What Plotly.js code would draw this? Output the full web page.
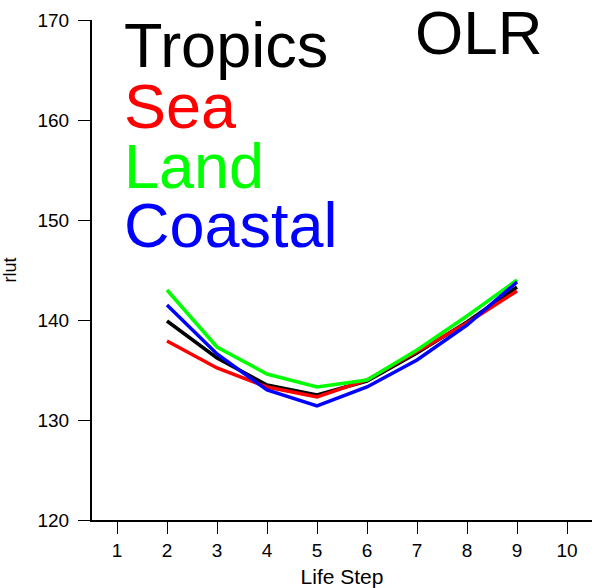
<!DOCTYPE html>
<html>
<head>
<meta charset="utf-8">
<script src="https://cdn.plot.ly/plotly-3.0.1.min.js"></script>
<style>html,body{margin:0;padding:0;background:#fff;}#chart{width:594px;height:588px;}</style>
</head>
<body>
<div id="chart"></div>
<script>
const lifeStep = [2, 3, 4, 5, 6, 7, 8, 9];
const tropics = [139.9, 136.2, 133.5, 132.5, 133.9, 136.7, 139.8, 143.3];
const sea     = [137.9, 135.2, 133.3, 132.3, 134.0, 136.9, 139.7, 142.9];
const land    = [143.0, 137.3, 134.6, 133.3, 134.0, 137.0, 140.4, 144.0];
const coastal = [141.5, 136.6, 133.0, 131.4, 133.3, 136.0, 139.5, 143.8];
const seriesNames = ["Tropics", "Sea", "Land", "Coastal"];
const seriesColors = ["#000000", "#ff0000", "#00ff00", "#0000ff"];
const xTicks = [1, 2, 3, 4, 5, 6, 7, 8, 9, 10];
const yTicks = [120, 130, 140, 150, 160, 170];

const seriesData = [tropics, sea, land, coastal];
const traces = seriesData.map((ys, i) => ({
  x: lifeStep, y: ys, type: "scatter", mode: "lines", name: seriesNames[i],
  line: {color: seriesColors[i], width: 3.5}, hoverinfo: "x+y+name"
}));

const font = "Liberation Sans, Arial, sans-serif";
const legendY = [45, 106, 166, 225];
const annotations = seriesNames.map((n, i) => ({
  text: n, xref: "paper", yref: "paper", x: (122 - 92) / 500, y: 1 - (legendY[i] - 20) / 499,
  xanchor: "left", yanchor: "middle", showarrow: false,
  font: {family: font, size: 63, color: seriesColors[i]}
}));
annotations.push({
  text: "OLR", xref: "paper", yref: "paper", x: (544 - 92) / 500, y: 1 - (32 - 20) / 499,
  xanchor: "right", yanchor: "middle", showarrow: false,
  font: {family: font, size: 62, color: "#000"}
});

const layout = {
  width: 594, height: 588,
  margin: {l: 92, r: 2, t: 20, b: 68},
  paper_bgcolor: "#fff", plot_bgcolor: "#fff",
  showlegend: false,
  font: {family: font, color: "#000"},
  xaxis: {
    range: [0.5, 10.5], tickvals: xTicks, ticktext: xTicks.map(String),
    showgrid: false, zeroline: false, showline: true, linecolor: "#000", linewidth: 2,
    ticks: "outside", ticklen: 12, tickwidth: 1, tickcolor: "#000",
    tickfont: {family: font, size: 19, color: "#000"},
    title: {text: "Life Step", font: {family: font, size: 21, color: "#000"}, standoff: 10}
  },
  yaxis: {
    range: [120, 170], tickvals: yTicks, ticktext: yTicks.map(String),
    showgrid: false, zeroline: false, showline: true, linecolor: "#000", linewidth: 2,
    ticks: "outside", ticklen: 12, tickwidth: 1, tickcolor: "#000", ticklabelstandoff: 5,
    tickfont: {family: font, size: 19, color: "#000"},
    title: {text: "rlut", font: {family: font, size: 18, color: "#000"}, standoff: 31}
  },
  annotations: annotations
};

Plotly.newPlot("chart", traces, layout, {displayModeBar: false, staticPlot: true});
</script>
</body>
</html>
